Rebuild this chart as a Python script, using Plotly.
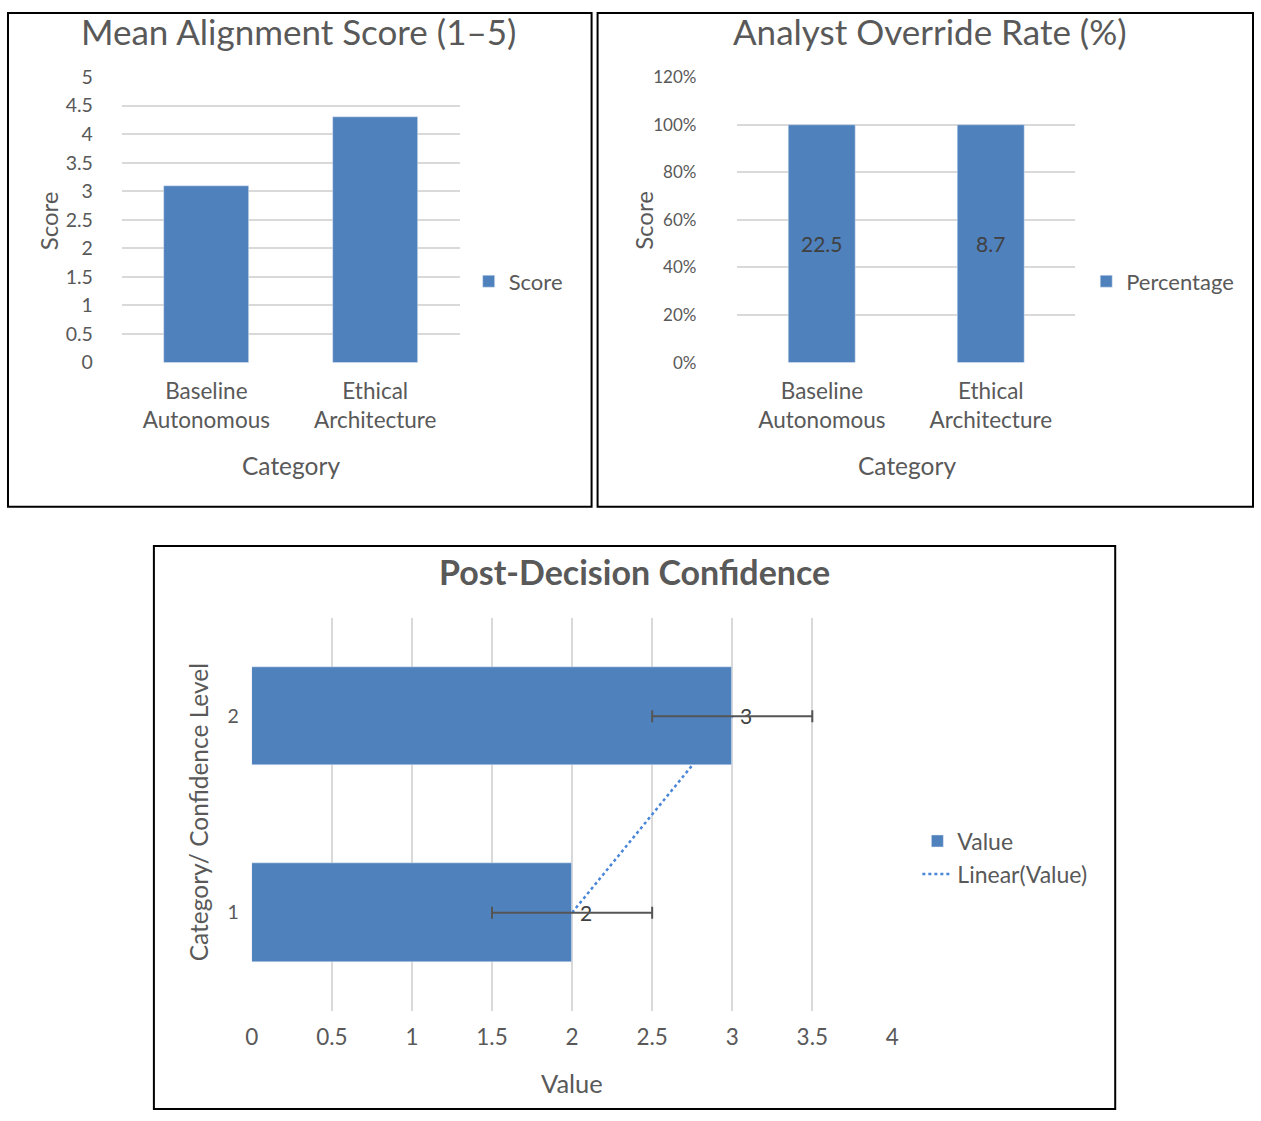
import numpy as np
import plotly.graph_objects as go

# ---------------- data ----------------
categories = ["Baseline<br>Autonomous", "Ethical<br>Architecture"]
alignment_scores = [3.1, 4.3]
override_values = [22.5, 8.7]          # shown as a 100% stacked column
confidence_levels = [1, 2]
confidence_values = [2, 3]
confidence_error = [0.5, 0.5]
score_ticks = [0, 0.5, 1, 1.5, 2, 2.5, 3, 3.5, 4, 4.5, 5]
score_ticklabels = ["0", "0.5", "1", "1.5", "2", "2.5", "3", "3.5", "4", "4.5", "5"]
value_ticks = [0, 0.5, 1, 1.5, 2, 2.5, 3, 3.5, 4]
value_ticklabels = ["0", "0.5", "1", "1.5", "2", "2.5", "3", "3.5", "4"]

W, H = 1261, 1121
FONT = "Lato"
BLUE = "#4F81BD"
GRAY = "#595959"
GRID = "#D9D9D9"

# the photographed page sits slightly inset/shrunk; layout positions below are
# given in target-picture pixels and mapped back to figure pixels
OX, OY, SX, SY = 6.0, 13.1, 0.9896, 0.9776


def fx(p):
    v = (p - OX) / SX
    v = min(max(v, 1.0), W - 1.0)
    return v / W


def fy(p):
    v = (p - OY) / SY
    v = min(max(v, 1.0), H - 1.0)
    return 1 - v / H


# 100% stacked: each stack only holds one series, so its share is value / stack total
stack_totals = np.array(override_values, dtype=float)
override_share = np.array(override_values, dtype=float) / stack_totals

# linear trendline of value against category position
coef = np.polyfit(confidence_levels, confidence_values, 1)
trend_x = np.polyval(coef, confidence_levels)

fig = go.Figure()

fig.add_trace(go.Bar(
    x=categories, y=alignment_scores, name="Score", marker_color=BLUE,
    width=0.5, xaxis="x", yaxis="y", legend="legend", hoverinfo="skip"))

fig.add_trace(go.Bar(
    x=categories, y=override_share, name="Percentage", marker_color=BLUE,
    width=0.4, xaxis="x2", yaxis="y2", legend="legend2",
    text=[f"{v}" for v in override_values], textposition="inside",
    insidetextanchor="middle", textangle=0,
    textfont=dict(family=FONT, size=21, color="#404040"), hoverinfo="skip"))

fig.add_trace(go.Scatter(
    x=trend_x, y=confidence_levels, mode="lines", name="Linear(Value)",
    line=dict(color="#4A86D8", width=2.5, dash="dot"),
    xaxis="x3", yaxis="y3", legend="legend3", legendrank=2, hoverinfo="skip"))

fig.add_trace(go.Bar(
    x=confidence_values, y=confidence_levels, orientation="h", name="Value",
    marker_color=BLUE, width=0.5, xaxis="x4", yaxis="y4", legend="legend3",
    legendrank=1,
    text=[f" {v}" for v in confidence_values], textposition="outside",
    textfont=dict(family=FONT, size=21, color="#404040"), cliponaxis=False,
    error_x=dict(type="data", array=confidence_error, color="#555555",
                 thickness=2, width=6),
    hoverinfo="skip"))

tickfont = dict(family=FONT, size=19.5, color=GRAY)
catfont = dict(family=FONT, size=22.5, color=GRAY)

fig.update_layout(
    width=W, height=H, margin=dict(l=0, r=0, t=0, b=0),
    paper_bgcolor="white", plot_bgcolor="white", showlegend=True,
    font=dict(family=FONT, color=GRAY),
    bargap=0,
    xaxis=dict(domain=[fx(121), fx(459)], anchor="y", range=[-0.5, 1.5],
               showgrid=False, showline=False, ticks="", tickfont=catfont,
               ticklabelstandoff=13),
    yaxis=dict(domain=[fy(363), fy(78)], anchor="x", range=[0, 5],
               tickvals=score_ticks, ticktext=score_ticklabels,
               showgrid=True, gridcolor=GRID, gridwidth=2, zeroline=False,
               showline=False, ticks="", tickfont=tickfont,
               ticklabelstandoff=28),
    xaxis2=dict(domain=[fx(737), fx(1075)], anchor="y2", range=[-0.5, 1.5],
                showgrid=False, showline=False, ticks="", tickfont=catfont,
                ticklabelstandoff=13),
    yaxis2=dict(domain=[fy(363), fy(78)], anchor="x2", range=[0, 1.2],
                dtick=0.2, tickformat=".0%", showgrid=True, gridcolor=GRID,
                gridwidth=2, zeroline=False, showline=False, ticks="",
                tickfont=dict(family=FONT, size=17, color=GRAY),
                ticklabelstandoff=40),
    xaxis3=dict(domain=[fx(251), fx(892)], anchor="y3", range=[0, 4],
                tickvals=value_ticks, ticktext=value_ticklabels,
                showgrid=True, gridcolor=GRID, gridwidth=2, zeroline=False,
                showline=False, ticks="", tickfont=catfont,
                ticklabelstandoff=11),
    yaxis3=dict(domain=[fy(1010), fy(618)], anchor="x3", range=[0.5, 2.5],
                tickvals=confidence_levels,
                ticktext=[str(c) for c in confidence_levels],
                showgrid=False, zeroline=False, showline=False, ticks="",
                tickfont=tickfont, ticklabelstandoff=12),
    xaxis4=dict(overlaying="x3", anchor="y4", range=[0, 4], visible=False),
    yaxis4=dict(overlaying="y3", anchor="x4", range=[0.5, 2.5], visible=False),
    legend=dict(x=fx(468), y=fy(282), xanchor="left", yanchor="middle",
                font=dict(family=FONT, size=22, color=GRAY),
                bgcolor="rgba(0,0,0,0)"),
    legend2=dict(x=fx(1086), y=fy(282), xanchor="left", yanchor="middle",
                 font=dict(family=FONT, size=22, color=GRAY),
                 bgcolor="rgba(0,0,0,0)"),
    legend3=dict(x=fx(917), y=fy(857), xanchor="left", yanchor="middle",
                 font=dict(family=FONT, size=23, color=GRAY),
                 bgcolor="rgba(0,0,0,0)", itemwidth=30, tracegroupgap=0),
)

# panel frames
for x0, y0, x1, y1 in [(5, 5, 591, 507), (597, 5, 1260, 507), (153, 546, 1115, 1121)]:
    fig.add_shape(type="rect", xref="paper", yref="paper",
                  x0=fx(x0), x1=fx(x1), y0=fy(y0), y1=fy(y1),
                  line=dict(color="black", width=2), fillcolor="rgba(0,0,0,0)")

ann = [
    ("Mean Alignment Score (1–5)", 298, 32, 35, 0),
    ("Analyst Override Rate (%)", 930, 32, 35, 0),
    ("<b>Post-Decision Confidence</b>", 634, 572, 34, 0),
    ("Category", 290, 466, 24.5, 0),
    ("Category", 907, 466, 24.5, 0),
    ("Value", 571, 1082, 25.5, 0),
    ("Score", 47, 221, 24, -90),
    ("Score", 643, 221, 24, -90),
    ("Category/ Confidence Level", 198, 812, 24.5, -90),
]
for text, x, y, size, ang in ann:
    fig.add_annotation(text=text, xref="paper", yref="paper", x=fx(x), y=fy(y),
                       xanchor="center", yanchor="middle", showarrow=False,
                       textangle=ang,
                       font=dict(family=FONT, size=size, color=GRAY))

fig.write_html("out.html", config={"displayModeBar": False},
               post_script="document.body.style.margin='0';"
                           "document.body.style.overflow='hidden';")
